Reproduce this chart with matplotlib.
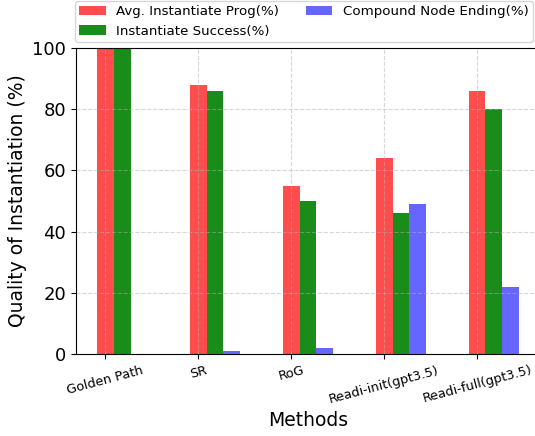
import matplotlib
matplotlib.use("Agg")
import matplotlib.pyplot as plt
import numpy as np

methods = ["Golden Path", "SR", "RoG", "Readi-init(gpt3.5)", "Readi-full(gpt3.5)"]
avg_prog = [100, 88, 55, 64, 86]
inst_success = [100, 86, 50, 46, 80]
compound_end = [0, 1, 2, 49, 22]

fig = plt.figure(figsize=(5.35, 4.36), dpi=100)
ax = fig.add_axes([76/535, 82/436, 464/535, 306/436])

x = np.arange(len(methods))
w = 0.18
ax.bar(x, avg_prog, w, color="red", alpha=0.7, label="Avg. Instantiate Prog(%)")
ax.bar(x + w, inst_success, w, color="green", alpha=0.9, label="Instantiate Success(%)")
ax.bar(x + 2 * w, compound_end, w, color="blue", alpha=0.6, label="Compound Node Ending(%)")

ax.set_ylim(0, 100)
ax.set_xticks(x)
ax.set_xticklabels(methods, rotation=15, fontsize=9.3)
ax.tick_params(axis="y", labelsize=13)
ax.set_ylabel("Quality of Instantiation (%)", fontsize=13.5)
ax.set_xlabel("Methods", fontsize=13.5)
ax.grid(True, linestyle="--", alpha=0.5)
ax.legend(loc="upper center", bbox_to_anchor=(0.491, 1.175), ncol=2, fontsize=9.6,
          handlelength=2.0, columnspacing=2.0, borderpad=0.3, labelspacing=0.5)

fig.savefig("out.png", dpi=100)
